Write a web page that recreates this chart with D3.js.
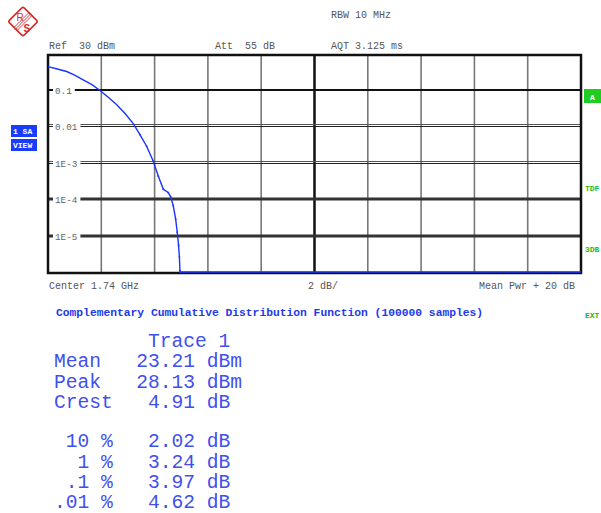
<!DOCTYPE html>
<html><head><meta charset="utf-8">
<script src="https://cdn.jsdelivr.net/npm/d3@7"></script>
<style>body{margin:0;background:#fff}svg{display:block}</style>
</head><body>
<svg id="c" width="601" height="513"></svg>
<script>
// ---- data ----
const ccdfDb   = [0, 0.35, 0.7, 1.0, 1.32, 1.65, 1.95, 2.25, 2.58, 2.9, 3.2, 3.45, 3.7, 3.95, 4.14, 4.33, 4.51, 4.60, 4.70, 4.79, 4.85, 4.90, 4.93, 4.95, 4.96, 20];
const ccdfLogP = [-0.365, -0.43, -0.50, -0.60, -0.73, -0.86, -1.02, -1.20, -1.41, -1.66, -1.93, -2.23, -2.55, -2.96, -3.37, -3.73, -3.82, -3.93, -4.18, -4.55, -4.91, -5.27, -5.59, -5.96, -6, -6];
const yTickVals   = [1e-1, 1e-2, 1e-3, 1e-4, 1e-5];
const yTickLabels = ["0.1", "0.01", "1E-3", "1E-4", "1E-5"];
const yTickStyle  = ["single", "double", "double", "thick", "thick"];
const xDivs = [0, 2, 4, 6, 8, 10, 12, 14, 16, 18, 20];
const headerTexts = [["RBW 10 MHz", 331, 18], ["Ref  30 dBm", 49, 49], ["Att  55 dB", 215, 49], ["AQT 3.125 ms", 331, 49]];
const footLeft = "Center 1.74 GHz", footMid = "2 dB/", footRight = "Mean Pwr + 20 dB";
const title = "Complementary Cumulative Distribution Function (100000 samples)";
const statLines = ["        Trace 1", "Mean   23.21 dBm", "Peak   28.13 dBm", "Crest   4.91 dB", " 10 %   2.02 dB", "  1 %   3.24 dB", " .1 %   3.97 dB", ".01 %   4.62 dB"];
const statBaselines = [347, 367, 388, 408, 447, 468, 488, 508];

// ---- drawing ----
const svg = d3.select("#c");
const L = 48, R = 581, T = 55, B = 273;
const x = d3.scaleLinear().domain([0, 20]).range([L, R]);
const y = d3.scaleLog().domain([1e-6, 1]).range([272, 53.3]);
const mono = "'Liberation Mono', 'DejaVu Sans Mono', monospace";

// logo
const logo = svg.append("g").attr("transform", "translate(23,21.5)");
logo.append("rect").attr("x", -10.5).attr("y", -10.5).attr("width", 21).attr("height", 21).attr("rx", 2)
  .attr("transform", "rotate(45)").attr("fill", "none").attr("stroke", "#d42a2a").attr("stroke-width", 1.6);
[-1.5, 0, 1.5].forEach(o => logo.append("line").attr("x1", -8 + o).attr("y1", 8 + o).attr("x2", 8 + o).attr("y2", -8 + o)
  .attr("stroke", "#d42a2a").attr("stroke-width", 0.9));
logo.append("text").attr("x", -6.5).attr("y", -0.5).text("R").attr("font-family", "'Liberation Sans', sans-serif")
  .attr("font-size", 10).attr("fill", "#d42a2a");
logo.append("text").attr("x", 0.5).attr("y", 10).text("S").attr("font-family", "'Liberation Sans', sans-serif")
  .attr("font-size", 10).attr("font-weight", "bold").attr("fill", "#d42a2a");

// header texts
svg.selectAll("text.hdr").data(headerTexts).enter().append("text").attr("class", "hdr")
  .attr("x", d => d[1]).attr("y", d => d[2]).text(d => d[0])
  .attr("font-family", mono).attr("font-size", 10).attr("fill", "#555").style("white-space", "pre");

// vertical gridlines
svg.selectAll("line.vg").data(xDivs.slice(1, -1)).enter().append("line")
  .attr("x1", d => x(d)).attr("x2", d => x(d)).attr("y1", T).attr("y2", B)
  .attr("stroke", d => d === 10 ? "#111" : "#777").attr("stroke-width", d => d === 10 ? 2.5 : 1.6);

// horizontal gridlines
const hg = svg.selectAll("g.hg").data(yTickVals).enter().append("g");
hg.each(function(d, i) {
  const g = d3.select(this), yy = Math.round(y(d)), st = yTickStyle[i];
  if (st === "single") {
    g.append("line").attr("x1", L).attr("x2", R).attr("y1", yy).attr("y2", yy).attr("stroke", "#111").attr("stroke-width", 2);
  } else if (st === "double") {
    g.append("line").attr("x1", L).attr("x2", R).attr("y1", yy - 1.5).attr("y2", yy - 1.5).attr("stroke", "#555").attr("stroke-width", 1);
    g.append("line").attr("x1", L).attr("x2", R).attr("y1", yy + 0.5).attr("y2", yy + 0.5).attr("stroke", "#222").attr("stroke-width", 1);
  } else {
    g.append("line").attr("x1", L).attr("x2", R).attr("y1", yy).attr("y2", yy).attr("stroke", "#333").attr("stroke-width", 3);
  }
  const lbl = yTickLabels[i];
  const w = lbl.length * 5.6 + 5;
  g.append("rect").attr("x", 53).attr("y", yy - 5).attr("width", w).attr("height", 10).attr("fill", "#fff");
  g.append("text").attr("x", 55).attr("y", yy + 3.5).text(lbl).attr("font-family", mono)
    .attr("font-size", 9.3).attr("fill", "#666");
});

// frame
svg.append("rect").attr("x", L).attr("y", T).attr("width", R - L).attr("height", B - T)
  .attr("fill", "none").attr("stroke", "#111").attr("stroke-width", 2.5);

// curve
const pts = ccdfDb.map((d, i) => [d, Math.pow(10, ccdfLogP[i])]);
svg.append("path").datum(pts)
  .attr("d", d3.line().x(d => x(d[0])).y(d => y(d[1])))
  .attr("fill", "none").attr("stroke", "#1a33ff").attr("stroke-width", 1.4);
svg.selectAll("circle.pt").data(pts.slice(11, -1)).enter().append("circle")
  .attr("cx", d => x(d[0])).attr("cy", d => y(d[1])).attr("r", 0.9).attr("fill", "#1a33ff");

// left buttons
[["1 SA", 125], ["VIEW", 139]].forEach(([t, yy]) => {
  svg.append("rect").attr("x", 11).attr("y", yy).attr("width", 26).attr("height", 12).attr("fill", "#1a3cff");
  svg.append("text").attr("x", 13).attr("y", yy + 9).text(t).attr("font-family", mono).attr("font-weight", "bold")
    .attr("font-size", 8).attr("fill", "#fff").style("white-space", "pre");
});

// right side indicators
svg.append("rect").attr("x", 584).attr("y", 89).attr("width", 17).attr("height", 14).attr("fill", "#22cc22");
svg.append("text").attr("x", 590).attr("y", 99.5).text("A").attr("font-family", mono).attr("font-weight", "bold")
  .attr("font-size", 8).attr("fill", "#fff");
[["TDF", 191], ["3DB", 252], ["EXT", 318]].forEach(([t, yy]) => {
  svg.append("text").attr("x", 585).attr("y", yy).text(t).attr("font-family", mono).attr("font-weight", "bold")
    .attr("font-size", 8).attr("fill", "#22bb22");
});

// footer
svg.append("text").attr("x", 49).attr("y", 289).text(footLeft).attr("font-family", mono).attr("font-size", 10).attr("fill", "#555");
svg.append("text").attr("x", 308).attr("y", 289).text(footMid).attr("font-family", mono).attr("font-size", 10).attr("fill", "#555");
svg.append("text").attr("x", 575).attr("y", 289).attr("text-anchor", "end").text(footRight).attr("font-family", mono).attr("font-size", 10).attr("fill", "#555");
svg.append("text").attr("x", 56).attr("y", 316).text(title).attr("font-family", mono).attr("font-weight", "bold")
  .attr("font-size", 11.3).attr("fill", "#2238ee");

// statistics
svg.selectAll("text.stat").data(statLines).enter().append("text").attr("class", "stat")
  .attr("x", 54).attr("y", (d, i) => statBaselines[i]).text(d => d)
  .attr("font-family", mono).attr("font-size", 19.6).attr("fill", "#3f50ee").style("white-space", "pre");
</script>
</body></html>
